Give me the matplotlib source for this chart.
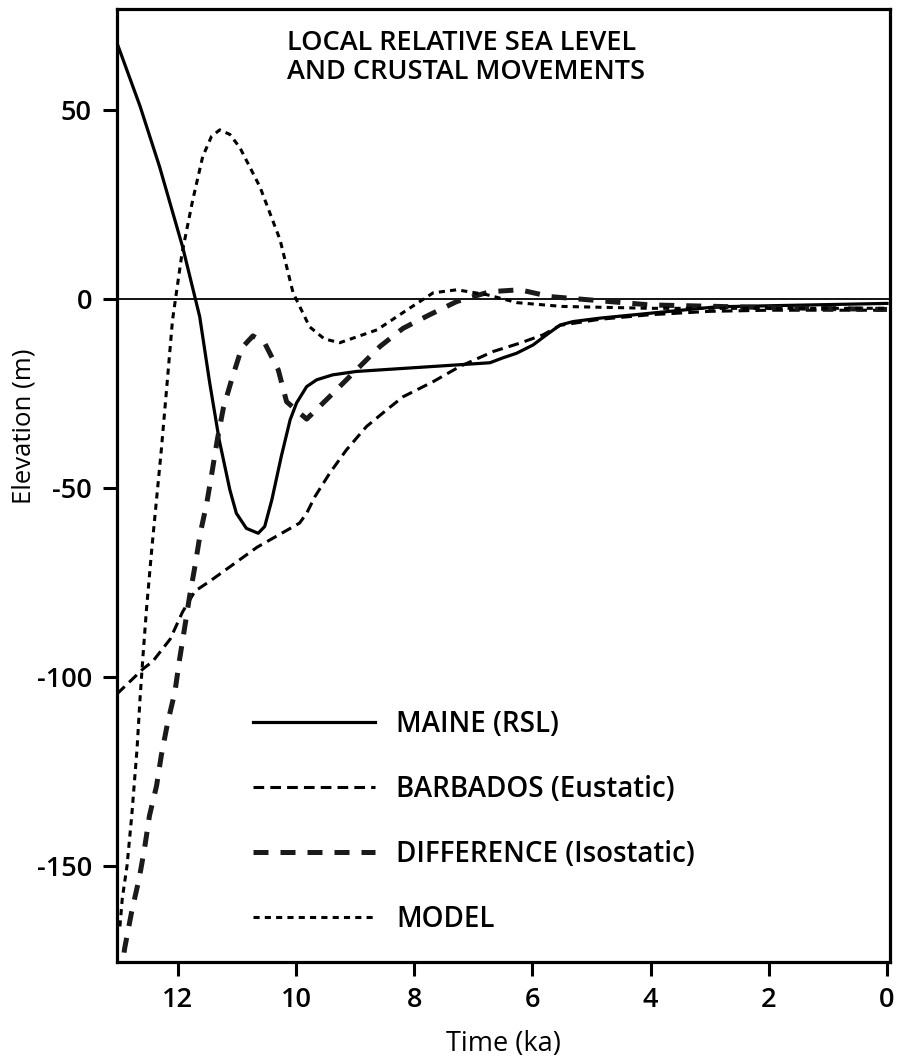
import matplotlib
matplotlib.use("Agg")
from matplotlib import pyplot as plt

plt.rcParams["font.family"] = ["Open Sans", "DejaVu Sans"]
plt.rcParams["font.weight"] = "semibold"
plt.rcParams["axes.unicode_minus"] = False

# Maine relative sea level (ka, m)
maine_t = [13.03, 12.64, 12.31, 11.92, 11.63, 11.46, 11.30, 11.12, 11.01, 10.84,
           10.64, 10.53, 10.41, 10.25, 10.10, 9.99, 9.82, 9.65, 9.38, 8.98,
           6.72, 6.50, 6.27, 5.99, 5.76, 5.53, 5.31, 4.86, 4.01, 2.88, 0.0]
maine_v = [67.7, 51.0, 35.0, 13.8, -4.7, -22.3, -37.3, -50.5, -56.7, -60.7,
           -62.0, -60.2, -53.2, -41.7, -32.0, -27.5, -23.2, -21.4, -20.1, -19.2,
           -16.9, -15.6, -14.4, -12.2, -9.5, -6.9, -6.0, -5.1, -3.8, -2.1, -1.2]

# Barbados eustatic curve
barb_t = [13.03, 12.59, 12.42, 12.13, 11.92, 11.71, 11.46, 10.66, 9.94, 9.82,
          9.68, 9.43, 9.15, 8.81, 8.47, 8.19, 7.68, 7.23, 6.66, 6.21, 5.82,
          5.53, 4.86, 4.01, 3.0, 2.0, 1.0, 0.0]
barb_v = [-104.5, -97.9, -95.8, -90.0, -82.8, -77.3, -74.7, -65.7, -59.3, -56.7,
          -52.3, -46.1, -40.0, -33.8, -29.4, -25.9, -21.9, -17.9, -13.9, -11.7, -9.5,
          -7.0, -5.4, -4.2, -3.3, -3.0, -3.0, -3.0]

# Difference (isostatic component)
diff_t = [12.97, 12.90, 12.78, 12.65, 12.56, 12.48, 12.36, 12.28, 12.17, 12.05,
          11.97, 11.88, 11.80, 11.71, 11.62, 11.51, 11.42, 11.33, 11.23, 11.09,
          10.92, 10.73, 10.53, 10.30, 10.16, 9.82, 9.37, 8.98, 8.58, 8.19,
          7.74, 7.28, 6.72, 6.21, 5.70, 4.01, 2.0, 0.0]
diff_v = [-180.0, -171.8, -162.0, -153.0, -145.0, -136.7, -128.8, -120.8, -111.9, -104.0,
          -95.3, -86.5, -78.6, -70.7, -62.0, -54.0, -45.7, -37.1, -28.9, -21.4,
          -13.0, -9.8, -11.7, -18.8, -27.2, -31.8, -24.9, -18.8, -12.6, -7.8,
          -4.2, -0.7, 1.9, 2.4, 0.6, -1.6, -2.3, -2.8]

# Model prediction
model_t = [12.98, 12.94, 12.86, 12.78, 12.69, 12.64, 12.59, 12.53, 12.44, 12.36,
           12.28, 12.18, 12.09, 11.93, 11.75, 11.58, 11.43, 11.29, 11.12, 10.95,
           10.61, 10.27, 10.05, 9.77, 9.52, 9.26, 8.63, 8.12, 7.68, 7.28, 6.77,
           6.26, 5.5, 4.0, 2.0, 0.0]
model_v = [-166.0, -158.6, -150.0, -136.7, -119.0, -105.8, -94.5, -82.0, -66.0, -53.0,
           -40.0, -22.0, -5.6, 12.0, 26.0, 37.6, 43.0, 44.7, 43.5, 40.0,
           29.6, 15.6, 1.6, -7.4, -10.6, -11.6, -8.2, -2.9, 1.6, 2.4, 1.1,
           -1.0, -2.0, -2.5, -2.5, -2.5]

labels = ["MAINE (RSL)", "BARBADOS (Eustatic)", "DIFFERENCE (Isostatic)", "MODEL"]
x_ticks = [12, 10, 8, 6, 4, 2, 0]
y_ticks = [50, 0, -50, -100, -150]

fig = plt.figure(figsize=(9.06, 10.59), dpi=100)
ax = fig.add_axes([0.1291, 0.0916, 0.8532, 0.9])

ax.axhline(0, color="black", lw=1.3, zorder=1)
ax.plot(maine_t, maine_v, color="black", lw=2.3, label=labels[0])
ax.plot(barb_t, barb_v, color="black", lw=2.2, dashes=(3.5, 2.0), label=labels[1])
ax.plot(diff_t, diff_v, color="#1a1a1a", lw=3.6, dashes=(3.0, 2.4), label=labels[2])
ax.plot(model_t, model_v, color="black", lw=2.2, dashes=(2.0, 1.7), label=labels[3])

ax.set_xlim(13.03, -0.05)
ax.set_ylim(-175.4, 76.7)
ax.set_xticks(x_ticks)
ax.set_yticks(y_ticks)
ax.tick_params(direction="out", length=10, width=2.2, labelsize=19.5, pad=7)
ax.tick_params(axis="y", pad=8)
for side in ax.spines.values():
    side.set_linewidth(2.3)

ax.set_xlabel("Time (ka)", fontsize=19.5, labelpad=12)
ax.set_ylabel("Elevation (m)", fontsize=18.5)
ax.yaxis.set_label_coords(-0.104, 0.562)

ax.text(0.22, 0.979, "LOCAL RELATIVE SEA LEVEL\nAND CRUSTAL MOVEMENTS",
        transform=ax.transAxes, ha="left", va="top", fontsize=19.5, linespacing=1.05)

ax.legend(loc="center left", bbox_to_anchor=(0.176, 0.147), frameon=False,
          fontsize=20, handlelength=4.4, handletextpad=0.75, labelspacing=1.3,
          borderpad=0, borderaxespad=0)

plt.savefig("out.png", dpi=100)
plt.close("all")
